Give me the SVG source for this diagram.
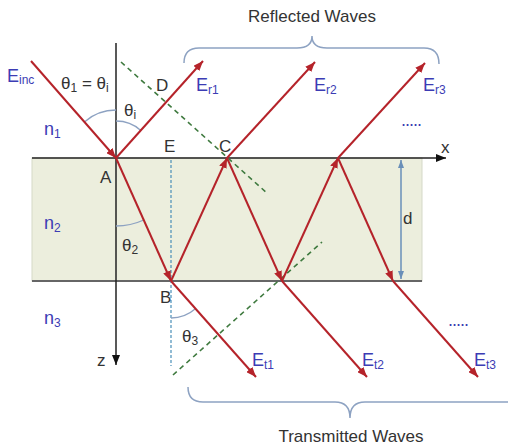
<svg xmlns="http://www.w3.org/2000/svg" width="508" height="448" viewBox="0 0 508 448">
<defs>
<style>
.ray{stroke:#b5232a;stroke-width:2;fill:none;marker-end:url(#ah)}
.lbl{font-family:"Liberation Sans",Arial,sans-serif;font-size:18px;fill:#3c3cb4}
.blk{font-family:"Liberation Sans",Arial,sans-serif;font-size:17px;fill:#333}
.sub{font-size:12px}
.brace{stroke:#8da2c2;stroke-width:1.5;fill:none}
.title{font-family:"Liberation Sans",Arial,sans-serif;font-size:17px;fill:#333}
.arc{stroke:#8da2c2;stroke-width:1.3;fill:none}
</style>
<marker id="ah" viewBox="0 0 10 8" refX="10" refY="4" markerWidth="10" markerHeight="8" orient="auto" markerUnits="userSpaceOnUse"><path d="M0,0 L10,4 L0,8 z" fill="#b5232a"/></marker>
<marker id="ak" viewBox="0 0 10 8" refX="10" refY="4" markerWidth="10" markerHeight="8" orient="auto" markerUnits="userSpaceOnUse"><path d="M0,0 L10,4 L0,8 z" fill="#111"/></marker>
<marker id="ab" viewBox="0 0 8 6" refX="8" refY="3" markerWidth="8" markerHeight="6" orient="auto-start-reverse" markerUnits="userSpaceOnUse"><path d="M0,0 L8,3 L0,6 z" fill="#6a8fb8"/></marker>
</defs>
<rect width="508" height="448" fill="#fff"/>
<g id="slab">
<rect x="32" y="158" width="390" height="123" fill="#eceedd" stroke="#d5d9c8" stroke-width="1"/>
<line x1="32" y1="281" x2="422" y2="281" stroke="#666" stroke-width="2"/>
</g>
<g id="axes">
<line x1="32" y1="158" x2="446" y2="158" stroke="#222" stroke-width="1.5" marker-end="url(#ak)"/>
<line x1="116" y1="43" x2="116" y2="365" stroke="#222" stroke-width="1.5" marker-end="url(#ak)"/>
<text class="blk" x="441" y="153">x</text>
<text class="blk" x="97" y="366">z</text>
</g>
<g id="guides">
<line x1="171" y1="160" x2="171" y2="366" stroke="#4a8fb8" stroke-width="1.2" stroke-dasharray="3,2"/>
<line x1="121" y1="62" x2="268" y2="194" stroke="#3f7a3f" stroke-width="1.6" stroke-dasharray="5,4"/>
<line x1="173" y1="375" x2="322" y2="242" stroke="#3f7a3f" stroke-width="1.6" stroke-dasharray="5,4"/>
<path class="arc" d="M116,110 A48,48 0 0 0 84.4,121.9"/>
<path class="arc" d="M116,121 A37,37 0 0 1 140.8,130.4"/>
<path class="arc" d="M116,226 A68,68 0 0 0 143.8,220"/>
<path class="arc" d="M171,318 A37,37 0 0 0 195.4,308.8"/>
<line x1="401" y1="160" x2="401" y2="279" stroke="#6a8fb8" stroke-width="1.5" marker-start="url(#ab)" marker-end="url(#ab)"/>
</g>
<g id="connectors">
<line class="ray" x1="31" y1="61" x2="116" y2="158"/>
<line class="ray" x1="116" y1="158" x2="203" y2="61"/>
<line class="ray" x1="116" y1="158" x2="171" y2="281"/>
<line class="ray" x1="171" y1="281" x2="227" y2="158"/>
<line class="ray" x1="227" y1="158" x2="282" y2="281"/>
<line class="ray" x1="282" y1="281" x2="338" y2="158"/>
<line class="ray" x1="338" y1="158" x2="393" y2="281"/>
<line class="ray" x1="227" y1="158" x2="315" y2="62"/>
<line class="ray" x1="338" y1="158" x2="425" y2="63"/>
<line class="ray" x1="171" y1="281" x2="256" y2="377"/>
<line class="ray" x1="282" y1="281" x2="367" y2="377"/>
<line class="ray" x1="393" y1="281" x2="478" y2="377"/>
</g>
<g id="labels">
<text class="lbl" x="7" y="82">E<tspan class="sub" dy="2">inc</tspan></text>
<text class="blk" x="61" y="89" font-size="18">θ<tspan class="sub" dy="3">1</tspan><tspan dy="-3"> = θ</tspan><tspan class="sub" dy="3">i</tspan></text>
<text class="blk" x="124" y="116" font-size="18">θ<tspan class="sub" dy="3">i</tspan></text>
<text class="lbl" x="44" y="135">n<tspan class="sub" dy="3">1</tspan></text>
<text class="lbl" x="44" y="229">n<tspan class="sub" dy="3">2</tspan></text>
<text class="lbl" x="44" y="324">n<tspan class="sub" dy="3">3</tspan></text>
<text class="blk" x="156" y="91">D</text>
<text class="blk" x="164" y="152">E</text>
<text class="blk" x="219" y="152">C</text>
<text class="blk" x="100" y="183">A</text>
<text class="blk" x="160" y="303">B</text>
<text class="blk" x="122" y="251" font-size="18">θ<tspan class="sub" dy="3">2</tspan></text>
<text class="blk" x="182" y="342" font-size="18">θ<tspan class="sub" dy="3">3</tspan></text>
<text class="blk" x="403" y="224" font-size="18">d</text>
<text class="lbl" x="196" y="91">E<tspan class="sub" dy="3">r1</tspan></text>
<text class="lbl" x="314" y="91">E<tspan class="sub" dy="3">r2</tspan></text>
<text class="lbl" x="423" y="91">E<tspan class="sub" dy="3">r3</tspan></text>
<text class="lbl" x="252" y="366">E<tspan class="sub" dy="3">t1</tspan></text>
<text class="lbl" x="362" y="366">E<tspan class="sub" dy="3">t2</tspan></text>
<text class="lbl" x="474" y="366">E<tspan class="sub" dy="3">t3</tspan></text>
<text class="lbl" x="401" y="126" font-size="13" letter-spacing="-1">.....</text>
<text class="lbl" x="448" y="326" font-size="13" letter-spacing="-1">.....</text>
</g>
<g id="reflected">
<path class="brace" d="M184,63 Q184,48 199,48 L297,48 Q312,48 312,36 Q312,48 327,48 L424,48 Q439,48 439,64"/>
<text class="title" x="312" y="22" text-anchor="middle">Reflected Waves</text>
</g>
<g id="transmitted">
<path class="brace" d="M188,387 Q188,402 203,402 L335,402 Q350,402 350,418 Q350,402 365,402 L508,402"/>
<text class="title" x="351" y="442" text-anchor="middle">Transmitted Waves</text>
</g>
</svg>
